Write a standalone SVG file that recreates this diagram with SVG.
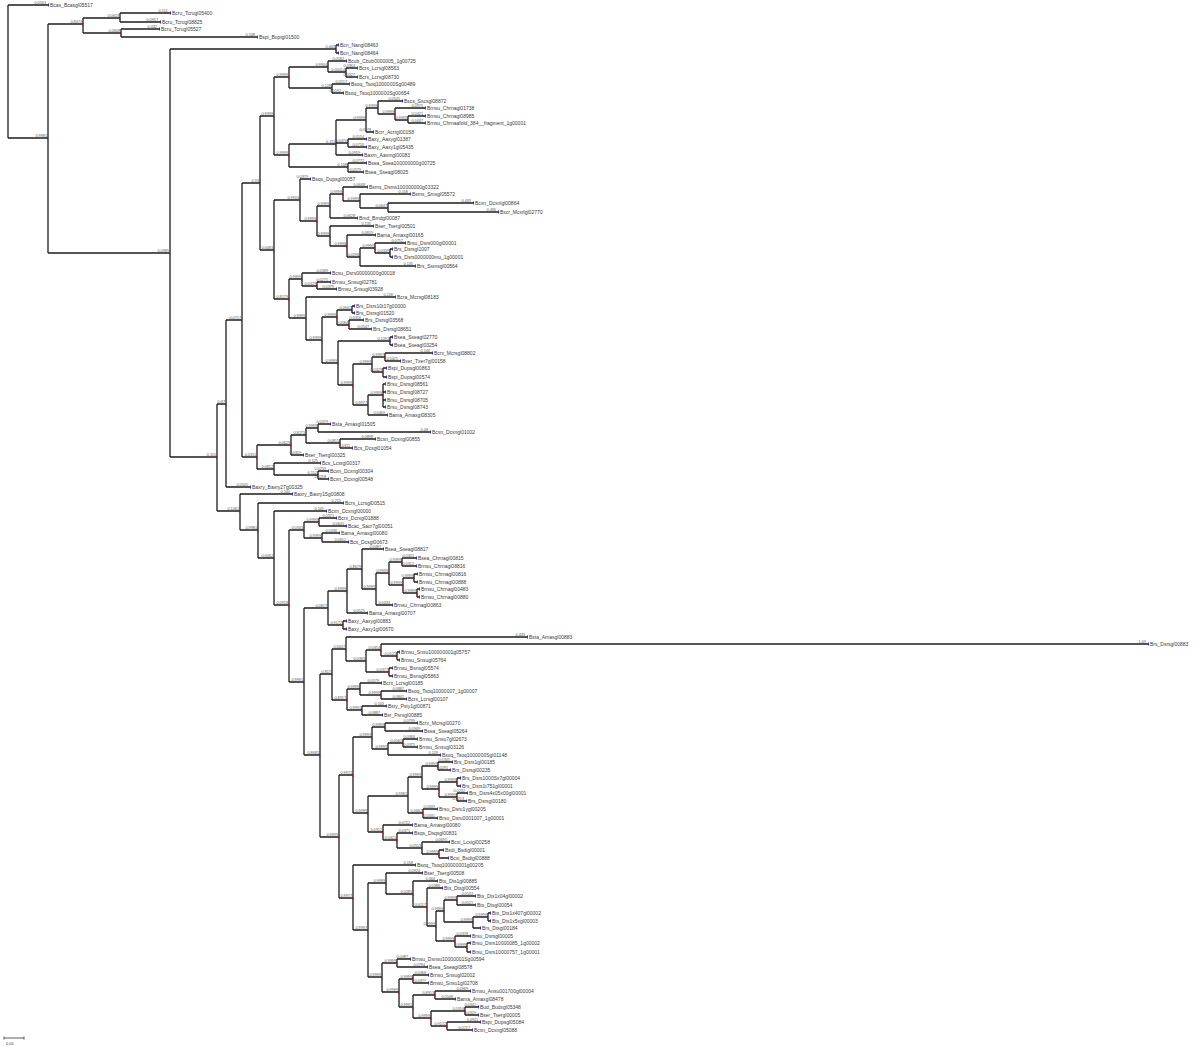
<svg xmlns="http://www.w3.org/2000/svg" width="1200" height="1048" viewBox="0 0 1200 1048">
<style>
.e path{fill:none;stroke:#1e1e1e;stroke-width:1.3}
.n{font-family:"Liberation Sans",Arial,sans-serif;font-size:5px;fill:#3a3a3a}
.b,.s{font-family:"Liberation Sans",Arial,sans-serif;font-size:3.8px;fill:#555;text-anchor:end}
.t{fill:#2233cc}
.rd{fill:#d42020}
</style>
<rect width="1200" height="1048" fill="#fff"/>
<g id="connectors" class="e">
<path d="M8 5V138M8 5H48M8 138H48"/>
<path d="M48 24V253M48 24H83M48 253H170"/>
<path d="M83 18V33M83 18H120M83 33H121"/>
<path d="M120 13V22M120 13H170M120 22H160"/>
<path d="M121 29V37M121 29H159M121 37H257"/>
<path d="M170 49V457M170 49H336M170 457H217"/>
<path d="M336 45V53M336 45H338M336 53H338"/>
<path d="M217 404V511M217 404H226M217 511H240"/>
<path d="M226 320V487M226 320H242M226 487H250"/>
<path d="M242 183V457M242 183H260M242 457H257"/>
<path d="M260 116V250M260 116H274M260 250H274"/>
<path d="M274 77V155M274 77H289M274 155H289"/>
<path d="M289 67V88M289 67H328M289 88H332"/>
<path d="M328 61V72M328 61H346M328 72H346"/>
<path d="M346 68V77M346 68H357M346 77H357"/>
<path d="M332 84V93M332 84H349M332 93H343"/>
<path d="M289 144V167M289 144H336M289 167H348"/>
<path d="M336 120V155M336 120H366M336 143H348M336 155H362"/>
<path d="M366 108V132M366 108H378M366 132H373"/>
<path d="M378 101V114M378 101H402M378 114H395"/>
<path d="M395 108V120M395 108H425M395 120H408"/>
<path d="M408 116V123M408 116H425M408 123H425"/>
<path d="M348 139V147M348 139H366M348 147H366"/>
<path d="M348 163V172M348 163H366M348 172H363"/>
<path d="M274 200V299M274 200H300M274 299H289"/>
<path d="M300 179V221M300 179H310M300 221H317"/>
<path d="M317 206V236M317 206H330M317 236H330"/>
<path d="M330 194V218M330 194H343M330 218H357"/>
<path d="M343 187V201M343 187H367M343 201H360"/>
<path d="M360 194V208M360 194H410M360 208H388"/>
<path d="M388 203V212M388 203H473M388 212H498"/>
<path d="M330 226V246M330 226H373M330 246H347"/>
<path d="M347 235V257M347 235H375M347 257H360"/>
<path d="M360 248V266M360 248H375M360 266H415"/>
<path d="M375 243V253M375 243H405M375 253H390"/>
<path d="M390 249V257M390 249H392M390 257H392"/>
<path d="M289 279V318M289 279H302M289 318H306"/>
<path d="M302 273V286M302 273H330M302 286H317"/>
<path d="M317 282V289M317 282H330M317 289H336"/>
<path d="M306 297V340M306 297H395M306 340H322"/>
<path d="M322 317V363M322 317H337M322 363H338"/>
<path d="M337 310V325M337 310H352M337 325H349"/>
<path d="M352 306V313M352 306H354M352 313H354"/>
<path d="M349 320V329M349 320H363M349 329H371"/>
<path d="M338 341V385M338 341H390M338 385H353"/>
<path d="M390 337V345M390 337H392M390 345H392"/>
<path d="M353 364V405M353 364H372M353 405H368"/>
<path d="M372 357V372M372 357H385M372 372H383"/>
<path d="M385 353V361M385 353H432M385 361H400"/>
<path d="M383 368V377M383 368H386M383 377H386"/>
<path d="M368 395V415M368 395H383M368 415H387"/>
<path d="M383 384V407M383 384H385M383 392H385M383 400H385M383 407H385"/>
<path d="M257 445V469M257 445H291M257 469H274"/>
<path d="M291 435V455M291 435H306M291 455H303"/>
<path d="M306 428V443M306 428H318M306 443H340"/>
<path d="M318 424V432M318 424H330M318 432H430"/>
<path d="M340 439V448M340 439H375M340 448H352"/>
<path d="M274 463V475M274 463H320M274 475H318"/>
<path d="M318 471V479M318 471H328M318 479H328"/>
<path d="M240 494V530M240 494H292M240 530H258"/>
<path d="M258 503V558M258 503H343M258 558H274"/>
<path d="M274 511V605M274 511H326M274 605H289"/>
<path d="M289 530V682M289 530H304M289 682H304"/>
<path d="M304 522V538M304 522H319M304 538H322"/>
<path d="M319 518V526M319 518H336M319 526H346"/>
<path d="M322 533V542M322 533H339M322 542H348"/>
<path d="M304 608V755M304 608H328M304 755H320"/>
<path d="M328 591V625M328 591H347M328 625H343"/>
<path d="M347 569V613M347 569H362M347 613H367"/>
<path d="M362 549V589M362 549H383M362 589H376"/>
<path d="M376 573V605M376 573H389M376 605H392"/>
<path d="M389 562V585M389 562H402M389 585H403"/>
<path d="M402 558V566M402 558H416M402 566H416"/>
<path d="M403 578V593M403 578H414M403 593H417"/>
<path d="M414 574V582M414 574H417M414 582H417"/>
<path d="M417 589V597M417 589H419M417 597H419"/>
<path d="M343 621V629M343 621H346M343 629H346"/>
<path d="M320 674V837M320 674H332M320 837H339"/>
<path d="M332 649V700M332 649H346M332 700H347"/>
<path d="M346 637V661M346 637H527M346 661H366"/>
<path d="M366 650V672M366 650H381M366 672H389"/>
<path d="M381 644V656M381 644H1148M381 656H397"/>
<path d="M397 652V660M397 652H399M397 660H399"/>
<path d="M389 668V676M389 668H392M389 676H392"/>
<path d="M347 689V710M347 689H360M347 710H362"/>
<path d="M360 683V695M360 683H381M360 695H381"/>
<path d="M381 691V699M381 691H406M381 699H406"/>
<path d="M362 706V715M362 706H386M362 715H382"/>
<path d="M339 775V898M339 775H353M339 898H353"/>
<path d="M353 737V813M353 737H372M353 813H368"/>
<path d="M372 727V749M372 727H385M372 749H388"/>
<path d="M385 723V731M385 723H417M385 731H422"/>
<path d="M388 743V755M388 743H403M388 755H440"/>
<path d="M403 739V747M403 739H417M403 747H417"/>
<path d="M368 796V832M368 796H408M368 832H383"/>
<path d="M408 777V813M408 777H422M408 813H423"/>
<path d="M422 766V789M422 766H438M422 789H439"/>
<path d="M438 762V770M438 762H452M438 770H450"/>
<path d="M439 782V797M439 782H457M439 797H457"/>
<path d="M457 778V786M457 778H460M457 786H460"/>
<path d="M457 793V801M457 793H467M457 801H466"/>
<path d="M423 809V818M423 809H437M423 818H437"/>
<path d="M383 825V840M383 825H412M383 840H397"/>
<path d="M397 833V848M397 833H412M397 848H422"/>
<path d="M422 842V854M422 842H449M422 854H439"/>
<path d="M439 850V858M439 850H443M439 858H448"/>
<path d="M353 865V930M353 865H415M353 930H368"/>
<path d="M368 883V977M368 883H386M368 977H382"/>
<path d="M386 873V894M386 873H422M386 894H413"/>
<path d="M413 881V907M413 881H437M413 907H427"/>
<path d="M427 888V926M427 888H442M427 926H436"/>
<path d="M436 911V941M436 911H444M436 941H455"/>
<path d="M444 900V922M444 900H457M444 922H473"/>
<path d="M457 896V905M457 896H475M457 905H475"/>
<path d="M473 917V928M473 917H488M473 928H480"/>
<path d="M488 913V921M488 913H490M488 921H490"/>
<path d="M455 936V947M455 936H470M455 947H467"/>
<path d="M467 943V952M467 943H470M467 952H470"/>
<path d="M382 963V992M382 963H397M382 992H399"/>
<path d="M397 959V967M397 959H410M397 967H427"/>
<path d="M399 979V1007M399 979H413M399 1007H413"/>
<path d="M413 975V983M413 975H428M413 983H428"/>
<path d="M413 995V1018M413 995H435M413 1018H431"/>
<path d="M435 991V999M435 991H470M435 999H455"/>
<path d="M431 1011V1026M431 1011H465M431 1026H447"/>
<path d="M465 1007V1015M465 1007H478M465 1015H478"/>
<path d="M447 1022V1030M447 1022H480M447 1030H472"/>
</g>
<g id="support">
<path class="rd" d="M47 138.6h1.4v1.4h-1.4zM82 24.6h1.4v1.4h-1.4zM119 18.6h1.4v1.4h-1.4zM120 33.6h1.4v1.4h-1.4zM169 253.6h1.4v1.4h-1.4zM335 49.6h1.4v1.4h-1.4zM216 457.6h1.4v1.4h-1.4zM225 404.6h1.4v1.4h-1.4zM241 320.6h1.4v1.4h-1.4zM259 183.6h1.4v1.4h-1.4zM273 116.6h1.4v1.4h-1.4zM288 77.6h1.4v1.4h-1.4zM327 67.6h1.4v1.4h-1.4zM345 72.6h1.4v1.4h-1.4zM331 88.6h1.4v1.4h-1.4zM288 155.6h1.4v1.4h-1.4zM335 144.6h1.4v1.4h-1.4zM365 120.6h1.4v1.4h-1.4zM377 108.6h1.4v1.4h-1.4zM394 114.6h1.4v1.4h-1.4zM407 120.6h1.4v1.4h-1.4zM347 143.6h1.4v1.4h-1.4zM347 167.6h1.4v1.4h-1.4zM273 250.6h1.4v1.4h-1.4zM299 200.6h1.4v1.4h-1.4zM316 221.6h1.4v1.4h-1.4zM329 206.6h1.4v1.4h-1.4zM342 194.6h1.4v1.4h-1.4zM359 201.6h1.4v1.4h-1.4zM387 208.6h1.4v1.4h-1.4zM329 236.6h1.4v1.4h-1.4zM346 246.6h1.4v1.4h-1.4zM359 257.6h1.4v1.4h-1.4zM374 248.6h1.4v1.4h-1.4zM389 253.6h1.4v1.4h-1.4zM288 299.6h1.4v1.4h-1.4zM301 279.6h1.4v1.4h-1.4zM316 286.6h1.4v1.4h-1.4zM305 318.6h1.4v1.4h-1.4zM321 340.6h1.4v1.4h-1.4zM336 317.6h1.4v1.4h-1.4zM351 310.6h1.4v1.4h-1.4zM348 325.6h1.4v1.4h-1.4zM337 363.6h1.4v1.4h-1.4zM389 341.6h1.4v1.4h-1.4zM352 385.6h1.4v1.4h-1.4zM371 364.6h1.4v1.4h-1.4zM384 357.6h1.4v1.4h-1.4zM382 372.6h1.4v1.4h-1.4zM367 405.6h1.4v1.4h-1.4zM382 395.6h1.4v1.4h-1.4zM256 457.6h1.4v1.4h-1.4zM290 445.6h1.4v1.4h-1.4zM305 435.6h1.4v1.4h-1.4zM317 428.6h1.4v1.4h-1.4zM339 443.6h1.4v1.4h-1.4zM273 469.6h1.4v1.4h-1.4zM317 475.6h1.4v1.4h-1.4zM239 511.6h1.4v1.4h-1.4zM257 530.6h1.4v1.4h-1.4zM273 558.6h1.4v1.4h-1.4zM288 605.6h1.4v1.4h-1.4zM303 530.6h1.4v1.4h-1.4zM318 522.6h1.4v1.4h-1.4zM321 538.6h1.4v1.4h-1.4zM303 682.6h1.4v1.4h-1.4zM327 608.6h1.4v1.4h-1.4zM346 591.6h1.4v1.4h-1.4zM361 569.6h1.4v1.4h-1.4zM375 589.6h1.4v1.4h-1.4zM388 573.6h1.4v1.4h-1.4zM401 562.6h1.4v1.4h-1.4zM402 585.6h1.4v1.4h-1.4zM413 578.6h1.4v1.4h-1.4zM416 593.6h1.4v1.4h-1.4zM342 625.6h1.4v1.4h-1.4zM319 755.6h1.4v1.4h-1.4zM331 674.6h1.4v1.4h-1.4zM345 649.6h1.4v1.4h-1.4zM365 661.6h1.4v1.4h-1.4zM380 650.6h1.4v1.4h-1.4zM396 656.6h1.4v1.4h-1.4zM388 672.6h1.4v1.4h-1.4zM346 700.6h1.4v1.4h-1.4zM359 689.6h1.4v1.4h-1.4zM380 695.6h1.4v1.4h-1.4zM361 710.6h1.4v1.4h-1.4zM338 837.6h1.4v1.4h-1.4zM352 775.6h1.4v1.4h-1.4zM371 737.6h1.4v1.4h-1.4zM384 727.6h1.4v1.4h-1.4zM387 749.6h1.4v1.4h-1.4zM402 743.6h1.4v1.4h-1.4zM367 813.6h1.4v1.4h-1.4zM407 796.6h1.4v1.4h-1.4zM421 777.6h1.4v1.4h-1.4zM437 766.6h1.4v1.4h-1.4zM438 789.6h1.4v1.4h-1.4zM456 782.6h1.4v1.4h-1.4zM456 797.6h1.4v1.4h-1.4zM422 813.6h1.4v1.4h-1.4zM382 832.6h1.4v1.4h-1.4zM396 840.6h1.4v1.4h-1.4zM421 848.6h1.4v1.4h-1.4zM438 854.6h1.4v1.4h-1.4zM352 898.6h1.4v1.4h-1.4zM367 930.6h1.4v1.4h-1.4zM385 883.6h1.4v1.4h-1.4zM412 894.6h1.4v1.4h-1.4zM426 907.6h1.4v1.4h-1.4zM435 926.6h1.4v1.4h-1.4zM443 911.6h1.4v1.4h-1.4zM456 900.6h1.4v1.4h-1.4zM472 922.6h1.4v1.4h-1.4zM487 917.6h1.4v1.4h-1.4zM454 941.6h1.4v1.4h-1.4zM466 947.6h1.4v1.4h-1.4zM381 977.6h1.4v1.4h-1.4zM396 963.6h1.4v1.4h-1.4zM398 992.6h1.4v1.4h-1.4zM412 979.6h1.4v1.4h-1.4zM412 1007.6h1.4v1.4h-1.4zM434 995.6h1.4v1.4h-1.4zM430 1018.6h1.4v1.4h-1.4zM464 1011.6h1.4v1.4h-1.4zM446 1026.6h1.4v1.4h-1.4z"/>
<text class="s" x="47" y="136.7">0.9981</text>
<text class="s" x="82" y="22.7">0.8073</text>
<text class="s" x="119" y="16.7">0.0603</text>
<text class="s" x="120" y="31.7">0.0608</text>
<text class="s" x="169" y="251.7">0.0985</text>
<text class="s" x="335" y="47.7">0.443</text>
<text class="s" x="216" y="455.7">0.115</text>
<text class="s" x="225" y="402.7">0.87</text>
<text class="s" x="241" y="318.7">0.0717</text>
<text class="s" x="259" y="181.7">0.93</text>
<text class="s" x="273" y="114.7">0.9999</text>
<text class="s" x="288" y="75.7">0.9999</text>
<text class="s" x="327" y="65.7">0.9904</text>
<text class="s" x="345" y="70.7">0.00014</text>
<text class="s" x="331" y="86.7">0.128</text>
<text class="s" x="288" y="153.7">0.9999</text>
<text class="s" x="335" y="142.7">0.111</text>
<text class="s" x="365" y="118.7">0.9999</text>
<text class="s" x="377" y="106.7">0.9999</text>
<text class="s" x="394" y="112.7">0.9999</text>
<text class="s" x="407" y="118.7">0.9999</text>
<text class="s" x="347" y="141.7">0.0470</text>
<text class="s" x="347" y="165.7">0.158</text>
<text class="s" x="273" y="248.7">0.0083</text>
<text class="s" x="299" y="198.7">0.9916</text>
<text class="s" x="316" y="219.7">0.9999</text>
<text class="s" x="329" y="204.7">0.9999</text>
<text class="s" x="342" y="192.7">0.9999</text>
<text class="s" x="359" y="199.7">0.9999</text>
<text class="s" x="387" y="206.7">0.0647</text>
<text class="s" x="329" y="234.7">0.9999</text>
<text class="s" x="346" y="244.7">0.9998</text>
<text class="s" x="359" y="255.7">0.0296</text>
<text class="s" x="374" y="246.7">0.9999</text>
<text class="s" x="389" y="251.7">0.0339</text>
<text class="s" x="288" y="297.7">0.8179</text>
<text class="s" x="301" y="277.7">0.9999</text>
<text class="s" x="316" y="284.7">0.0329</text>
<text class="s" x="305" y="316.7">0.9999</text>
<text class="s" x="321" y="338.7">0.9999</text>
<text class="s" x="336" y="315.7">0.9999</text>
<text class="s" x="351" y="308.7">0.0641</text>
<text class="s" x="348" y="323.7">0.0584</text>
<text class="s" x="337" y="361.7">0.9999</text>
<text class="s" x="389" y="339.7">0.1091</text>
<text class="s" x="352" y="383.7">0.9999</text>
<text class="s" x="371" y="362.7">0.9999</text>
<text class="s" x="384" y="355.7">0.9997</text>
<text class="s" x="382" y="370.7">0.0429</text>
<text class="s" x="367" y="403.7">0.9977</text>
<text class="s" x="382" y="393.7">0.9999</text>
<text class="s" x="256" y="455.7">0.0311</text>
<text class="s" x="290" y="443.7">0.0629</text>
<text class="s" x="305" y="433.7">0.8271</text>
<text class="s" x="317" y="426.7">0.9999</text>
<text class="s" x="339" y="441.7">0.0815</text>
<text class="s" x="273" y="467.7">0.0812</text>
<text class="s" x="317" y="473.7">0.152</text>
<text class="s" x="239" y="509.7">0.1062</text>
<text class="s" x="257" y="528.7">0.9981</text>
<text class="s" x="273" y="556.7">0.0062</text>
<text class="s" x="288" y="603.7">0.0918</text>
<text class="s" x="303" y="528.7">0.0343</text>
<text class="s" x="318" y="520.7">0.9999</text>
<text class="s" x="321" y="536.7">0.9999</text>
<text class="s" x="303" y="680.7">0.9991</text>
<text class="s" x="327" y="606.7">0.0817</text>
<text class="s" x="346" y="589.7">0.9999</text>
<text class="s" x="361" y="567.7">0.8679</text>
<text class="s" x="375" y="587.7">0.9999</text>
<text class="s" x="388" y="571.7">0.9999</text>
<text class="s" x="401" y="560.7">0.9999</text>
<text class="s" x="402" y="583.7">0.9999</text>
<text class="s" x="413" y="576.7">0.9999</text>
<text class="s" x="416" y="591.7">0.9999</text>
<text class="s" x="342" y="623.7">0.9172</text>
<text class="s" x="319" y="753.7">0.8681</text>
<text class="s" x="331" y="672.7">0.817</text>
<text class="s" x="345" y="647.7">0.0647</text>
<text class="s" x="365" y="659.7">0.0383</text>
<text class="s" x="380" y="648.7">0.0454</text>
<text class="s" x="396" y="654.7">0.0125</text>
<text class="s" x="388" y="670.7">0.0377</text>
<text class="s" x="346" y="698.7">0.8917</text>
<text class="s" x="359" y="687.7">0.9999</text>
<text class="s" x="380" y="693.7">0.9999</text>
<text class="s" x="361" y="708.7">0.9991</text>
<text class="s" x="338" y="835.7">0.9999</text>
<text class="s" x="352" y="773.7">0.9971</text>
<text class="s" x="371" y="735.7">0.9999</text>
<text class="s" x="384" y="725.7">0.9999</text>
<text class="s" x="387" y="747.7">0.9999</text>
<text class="s" x="402" y="741.7">0.0565</text>
<text class="s" x="367" y="811.7">0.9999</text>
<text class="s" x="407" y="794.7">0.9981</text>
<text class="s" x="421" y="775.7">0.9999</text>
<text class="s" x="437" y="764.7">0.9999</text>
<text class="s" x="438" y="787.7">0.9999</text>
<text class="s" x="456" y="780.7">0.9999</text>
<text class="s" x="456" y="795.7">0.9999</text>
<text class="s" x="422" y="811.7">0.0662</text>
<text class="s" x="382" y="830.7">0.0312</text>
<text class="s" x="396" y="838.7">0.0421</text>
<text class="s" x="421" y="846.7">0.0553</text>
<text class="s" x="438" y="852.7">0.9999</text>
<text class="s" x="352" y="896.7">0.9977</text>
<text class="s" x="367" y="928.7">0.9997</text>
<text class="s" x="385" y="881.7">0.9999</text>
<text class="s" x="412" y="892.7">0.0285</text>
<text class="s" x="426" y="905.7">0.0117</text>
<text class="s" x="435" y="924.7">0.9999</text>
<text class="s" x="443" y="909.7">0.9999</text>
<text class="s" x="456" y="898.7">0.9999</text>
<text class="s" x="472" y="920.7">0.9999</text>
<text class="s" x="487" y="915.7">0.9999</text>
<text class="s" x="454" y="939.7">0.9999</text>
<text class="s" x="466" y="945.7">0.9999</text>
<text class="s" x="381" y="975.7">0.9999</text>
<text class="s" x="396" y="961.7">0.9999</text>
<text class="s" x="398" y="990.7">0.9999</text>
<text class="s" x="412" y="977.7">0.9999</text>
<text class="s" x="412" y="1005.7">0.9992</text>
<text class="s" x="434" y="993.7">0.8913</text>
<text class="s" x="430" y="1016.7">0.9999</text>
<text class="s" x="464" y="1009.7">0.0316</text>
<text class="s" x="446" y="1024.7">0.9172</text>
</g>
<g id="leaves">
<g id="leaf1"><rect class="t" x="48" y="3.5" width="1" height="3"/><text class="n" x="50" y="6.8">Bcas_Bcasgl05517</text><text class="b" x="46" y="3.7">0.0563</text></g>
<g id="leaf2"><rect class="t" x="170" y="11.5" width="1" height="3"/><text class="n" x="172" y="14.8">Bcru_Tcrugl05400</text><text class="b" x="168" y="11.7">0.151</text></g>
<g id="leaf3"><rect class="t" x="160" y="20.5" width="1" height="3"/><text class="n" x="162" y="23.8">Bcru_Tcrugl08825</text><text class="b" x="158" y="20.7">0.0957</text></g>
<g id="leaf4"><rect class="t" x="159" y="27.5" width="1" height="3"/><text class="n" x="161" y="30.8">Bcru_Tcrugl05527</text><text class="b" x="157" y="27.7">0.032</text></g>
<g id="leaf5"><rect class="t" x="257" y="35.5" width="1" height="3"/><text class="n" x="259" y="38.8">Bspi_Bupigl01500</text><text class="b" x="255" y="35.7">0.548</text></g>
<g id="leaf6"><rect class="t" x="338" y="43.5" width="1" height="3"/><text class="n" x="340" y="46.8">Bcn_Nangl08463</text></g>
<g id="leaf7"><rect class="t" x="338" y="51.5" width="1" height="3"/><text class="n" x="340" y="54.8">Bcn_Nangl08464</text></g>
<g id="leaf8"><rect class="t" x="346" y="59.5" width="1" height="3"/><text class="n" x="348" y="62.8">Bcub_Cbub0000005_1g00725</text><text class="b" x="344" y="59.7">0.0582</text></g>
<g id="leaf9"><rect class="t" x="357" y="66.5" width="1" height="3"/><text class="n" x="359" y="69.8">Bcrs_Lcrsgl08563</text><text class="b" x="355" y="66.7">0.0364</text></g>
<g id="leaf10"><rect class="t" x="357" y="75.5" width="1" height="3"/><text class="n" x="359" y="78.8">Bcrs_Lcrsgl08730</text><text class="b" x="355" y="75.7">0.0327</text></g>
<g id="leaf11"><rect class="t" x="349" y="82.5" width="1" height="3"/><text class="n" x="351" y="85.8">Bsoq_Tsoq1000000Sg00489</text><text class="b" x="347" y="82.7">0.0517</text></g>
<g id="leaf12"><rect class="t" x="343" y="91.5" width="1" height="3"/><text class="n" x="345" y="94.8">Bsoq_Tsoq1000000Sg00654</text><text class="b" x="341" y="91.7">0.0192</text></g>
<g id="leaf13"><rect class="t" x="402" y="99.5" width="1" height="3"/><text class="n" x="404" y="102.8">Bscs_Sscsgl08872</text><text class="b" x="400" y="99.7">0.0541</text></g>
<g id="leaf14"><rect class="t" x="425" y="106.5" width="1" height="3"/><text class="n" x="427" y="109.8">Brnsu_Chrnagl01738</text><text class="b" x="423" y="106.7">0.0975</text></g>
<g id="leaf15"><rect class="t" x="425" y="114.5" width="1" height="3"/><text class="n" x="427" y="117.8">Brnsu_Chrnagl08985</text><text class="b" x="423" y="114.7">0.0421</text></g>
<g id="leaf16"><rect class="t" x="425" y="121.5" width="1" height="3"/><text class="n" x="427" y="124.8">Brnsu_Chrnaafold_384__fragment_1g00001</text><text class="b" x="423" y="121.7">0.0447</text></g>
<g id="leaf17"><rect class="t" x="373" y="130.5" width="1" height="3"/><text class="n" x="375" y="133.8">Bcrr_Acrrgl00158</text><text class="b" x="371" y="130.7">0.0278</text></g>
<g id="leaf18"><rect class="t" x="366" y="137.5" width="1" height="3"/><text class="n" x="368" y="140.8">Baxy_Aaxygl01387</text><text class="b" x="364" y="137.7">0.0514</text></g>
<g id="leaf19"><rect class="t" x="366" y="145.5" width="1" height="3"/><text class="n" x="368" y="148.8">Baxy_Aaxy1gl05435</text><text class="b" x="364" y="145.7">0.0716</text></g>
<g id="leaf20"><rect class="t" x="362" y="153.5" width="1" height="3"/><text class="n" x="364" y="156.8">Baxm_Aaxmgl00083</text><text class="b" x="360" y="153.7">0.0959</text></g>
<g id="leaf21"><rect class="t" x="366" y="161.5" width="1" height="3"/><text class="n" x="368" y="164.8">Bsea_Ssea100000000g00725</text><text class="b" x="364" y="161.7">0.0772</text></g>
<g id="leaf22"><rect class="t" x="363" y="170.5" width="1" height="3"/><text class="n" x="365" y="173.8">Bsea_Sseagl08025</text><text class="b" x="361" y="170.7">0.0579</text></g>
<g id="leaf23"><rect class="t" x="310" y="177.5" width="1" height="3"/><text class="n" x="312" y="180.8">Bsqs_Dupsgl00057</text><text class="b" x="308" y="177.7">0.0379</text></g>
<g id="leaf24"><rect class="t" x="367" y="185.5" width="1" height="3"/><text class="n" x="369" y="188.8">Bsms_Dsms100000000g03322</text><text class="b" x="365" y="185.7">0.0648</text></g>
<g id="leaf25"><rect class="t" x="410" y="192.5" width="1" height="3"/><text class="n" x="412" y="195.8">Bsms_Smsgl05572</text><text class="b" x="408" y="192.7">0.158</text></g>
<g id="leaf26"><rect class="t" x="473" y="201.5" width="1" height="3"/><text class="n" x="475" y="204.8">Bcxn_Dcxnlgl00864</text><text class="b" x="471" y="201.7">0.433</text></g>
<g id="leaf27"><rect class="t" x="498" y="210.5" width="1" height="3"/><text class="n" x="500" y="213.8">Bxcr_Mcxrlgl02770</text><text class="b" x="496" y="210.7">0.496</text></g>
<g id="leaf28"><rect class="t" x="357" y="216.5" width="1" height="3"/><text class="n" x="359" y="219.8">Bmd_Bmdgl00087</text><text class="b" x="355" y="216.7">0.0628</text></g>
<g id="leaf29"><rect class="t" x="373" y="224.5" width="1" height="3"/><text class="n" x="375" y="227.8">Bser_Tsergl00501</text><text class="b" x="371" y="224.7">0.135</text></g>
<g id="leaf30"><rect class="t" x="375" y="233.5" width="1" height="3"/><text class="n" x="377" y="236.8">Bama_Amaxgl00165</text><text class="b" x="373" y="233.7">0.0819</text></g>
<g id="leaf31"><rect class="t" x="405" y="241.5" width="1" height="3"/><text class="n" x="407" y="244.8">Brsu_Dsrs000gl00001</text><text class="b" x="403" y="241.7">0.0752</text></g>
<g id="leaf32"><rect class="t" x="392" y="247.5" width="1" height="3"/><text class="n" x="394" y="250.8">Brs_Dsrsgl1007</text></g>
<g id="leaf33"><rect class="t" x="392" y="255.5" width="1" height="3"/><text class="n" x="394" y="258.8">Brs_Dsrs0000000mu_1g00001</text></g>
<g id="leaf34"><rect class="t" x="415" y="264.5" width="1" height="3"/><text class="n" x="417" y="267.8">Brs_Ssmsgl00564</text><text class="b" x="413" y="264.7">0.135</text></g>
<g id="leaf35"><rect class="t" x="330" y="271.5" width="1" height="3"/><text class="n" x="332" y="274.8">Bcsu_Dsrs00000000g00018</text><text class="b" x="328" y="271.7">0.0589</text></g>
<g id="leaf36"><rect class="t" x="330" y="280.5" width="1" height="3"/><text class="n" x="332" y="283.8">Brnsu_Snsugl02781</text><text class="b" x="328" y="280.7">0.0275</text></g>
<g id="leaf37"><rect class="t" x="336" y="287.5" width="1" height="3"/><text class="n" x="338" y="290.8">Brnsu_Snsugl03928</text><text class="b" x="334" y="287.7">0.0379</text></g>
<g id="leaf38"><rect class="t" x="395" y="295.5" width="1" height="3"/><text class="n" x="397" y="298.8">Bcra_Mcrsgl08183</text><text class="b" x="393" y="295.7">0.218</text></g>
<g id="leaf39"><rect class="t" x="354" y="304.5" width="1" height="3"/><text class="n" x="356" y="307.8">Brs_Dsrs10t17g00000</text></g>
<g id="leaf40"><rect class="t" x="354" y="311.5" width="1" height="3"/><text class="n" x="356" y="314.8">Brs_Dsrsgl01520</text></g>
<g id="leaf41"><rect class="t" x="363" y="318.5" width="1" height="3"/><text class="n" x="365" y="321.8">Brs_Dsrsgl03568</text><text class="b" x="361" y="318.7">0.0356</text></g>
<g id="leaf42"><rect class="t" x="371" y="327.5" width="1" height="3"/><text class="n" x="373" y="330.8">Brs_Dsrsgl08651</text><text class="b" x="369" y="327.7">0.0547</text></g>
<g id="leaf43"><rect class="t" x="392" y="335.5" width="1" height="3"/><text class="n" x="394" y="338.8">Bsea_Sseagl02770</text></g>
<g id="leaf44"><rect class="t" x="392" y="343.5" width="1" height="3"/><text class="n" x="394" y="346.8">Bsea_Sseagl03254</text></g>
<g id="leaf45"><rect class="t" x="432" y="351.5" width="1" height="3"/><text class="n" x="434" y="354.8">Bcrx_Mcrsgl08802</text><text class="b" x="430" y="351.7">0.144</text></g>
<g id="leaf46"><rect class="t" x="400" y="359.5" width="1" height="3"/><text class="n" x="402" y="362.8">Bxer_Txer7gl00158</text><text class="b" x="398" y="359.7">0.0425</text></g>
<g id="leaf47"><rect class="t" x="386" y="366.5" width="1" height="3"/><text class="n" x="388" y="369.8">Bspi_Dupsgl00863</text></g>
<g id="leaf48"><rect class="t" x="386" y="375.5" width="1" height="3"/><text class="n" x="388" y="378.8">Bspi_Dupsgl00574</text></g>
<g id="leaf49"><rect class="t" x="385" y="382.5" width="1" height="3"/><text class="n" x="387" y="385.8">Brsu_Dsrsgl08561</text></g>
<g id="leaf50"><rect class="t" x="385" y="390.5" width="1" height="3"/><text class="n" x="387" y="393.8">Brsu_Dsrsgl08727</text></g>
<g id="leaf51"><rect class="t" x="385" y="398.5" width="1" height="3"/><text class="n" x="387" y="401.8">Brsu_Dsrsgl08705</text></g>
<g id="leaf52"><rect class="t" x="385" y="405.5" width="1" height="3"/><text class="n" x="387" y="408.8">Brsu_Dsrsgl08743</text></g>
<g id="leaf53"><rect class="t" x="387" y="413.5" width="1" height="3"/><text class="n" x="389" y="416.8">Bama_Amaxgl08305</text><text class="b" x="385" y="413.7">0.0469</text></g>
<g id="leaf54"><rect class="t" x="330" y="422.5" width="1" height="3"/><text class="n" x="332" y="425.8">Bsta_Amasgl01505</text><text class="b" x="328" y="422.7">0.0379</text></g>
<g id="leaf55"><rect class="t" x="430" y="430.5" width="1" height="3"/><text class="n" x="432" y="433.8">Bcxn_Dcxngl01002</text><text class="b" x="428" y="430.7">0.48</text></g>
<g id="leaf56"><rect class="t" x="375" y="437.5" width="1" height="3"/><text class="n" x="377" y="440.8">Bcsn_Dcsngl00855</text><text class="b" x="373" y="437.7">0.0898</text></g>
<g id="leaf57"><rect class="t" x="352" y="446.5" width="1" height="3"/><text class="n" x="354" y="449.8">Bcs_Dcsgl01054</text><text class="b" x="350" y="446.7">0.0311</text></g>
<g id="leaf58"><rect class="t" x="303" y="453.5" width="1" height="3"/><text class="n" x="305" y="456.8">Bser_Tsergl00325</text><text class="b" x="301" y="453.7">0.0359</text></g>
<g id="leaf59"><rect class="t" x="320" y="461.5" width="1" height="3"/><text class="n" x="322" y="464.8">Bcs_Lcsrgl00317</text><text class="b" x="318" y="461.7">0.125</text></g>
<g id="leaf60"><rect class="t" x="328" y="469.5" width="1" height="3"/><text class="n" x="330" y="472.8">Bcxn_Dcxngl00304</text><text class="b" x="326" y="469.7">0.0259</text></g>
<g id="leaf61"><rect class="t" x="328" y="477.5" width="1" height="3"/><text class="n" x="330" y="480.8">Bcxn_Dcxngl00548</text><text class="b" x="326" y="477.7">0.0258</text></g>
<g id="leaf62"><rect class="t" x="250" y="485.5" width="1" height="3"/><text class="n" x="252" y="488.8">Baxry_Baxry27g00325</text><text class="b" x="248" y="485.7">0.0505</text></g>
<g id="leaf63"><rect class="t" x="292" y="492.5" width="1" height="3"/><text class="n" x="294" y="495.8">Baxry_Baxry15g00808</text><text class="b" x="290" y="492.7">0.100</text></g>
<g id="leaf64"><rect class="t" x="343" y="501.5" width="1" height="3"/><text class="n" x="345" y="504.8">Bcrs_Lcrsgl00515</text><text class="b" x="341" y="501.7">0.215</text></g>
<g id="leaf65"><rect class="t" x="326" y="509.5" width="1" height="3"/><text class="n" x="328" y="512.8">Bcxn_Dcxngl00000</text><text class="b" x="324" y="509.7">0.105</text></g>
<g id="leaf66"><rect class="t" x="336" y="516.5" width="1" height="3"/><text class="n" x="338" y="519.8">Bcrx_Dcrxgl01888</text><text class="b" x="334" y="516.7">0.0371</text></g>
<g id="leaf67"><rect class="t" x="346" y="524.5" width="1" height="3"/><text class="n" x="348" y="527.8">Bcac_Sacr7gl00051</text><text class="b" x="344" y="524.7">0.0641</text></g>
<g id="leaf68"><rect class="t" x="339" y="531.5" width="1" height="3"/><text class="n" x="341" y="534.8">Bama_Amaxgl00080</text><text class="b" x="337" y="531.7">0.0436</text></g>
<g id="leaf69"><rect class="t" x="348" y="540.5" width="1" height="3"/><text class="n" x="350" y="543.8">Bcs_Dcsgl00673</text><text class="b" x="346" y="540.7">0.0652</text></g>
<g id="leaf70"><rect class="t" x="383" y="547.5" width="1" height="3"/><text class="n" x="385" y="550.8">Bsea_Sseagl08817</text><text class="b" x="381" y="547.7">0.0487</text></g>
<g id="leaf71"><rect class="t" x="416" y="556.5" width="1" height="3"/><text class="n" x="418" y="559.8">Bsea_Chrnagl00815</text><text class="b" x="414" y="556.7">0.0301</text></g>
<g id="leaf72"><rect class="t" x="416" y="564.5" width="1" height="3"/><text class="n" x="418" y="567.8">Brnsu_Chrnagl08816</text><text class="b" x="414" y="564.7">0.0312</text></g>
<g id="leaf73"><rect class="t" x="417" y="572.5" width="1" height="3"/><text class="n" x="419" y="575.8">Brnsu_Chrnagl00816</text></g>
<g id="leaf74"><rect class="t" x="417" y="580.5" width="1" height="3"/><text class="n" x="419" y="583.8">Brnsu_Chrnagl00888</text></g>
<g id="leaf75"><rect class="t" x="419" y="587.5" width="1" height="3"/><text class="n" x="421" y="590.8">Brnsu_Chrnagl00483</text></g>
<g id="leaf76"><rect class="t" x="419" y="595.5" width="1" height="3"/><text class="n" x="421" y="598.8">Brnsu_Chrnagl00880</text></g>
<g id="leaf77"><rect class="t" x="392" y="603.5" width="1" height="3"/><text class="n" x="394" y="606.8">Brnsu_Chrnagl00863</text><text class="b" x="390" y="603.7">0.0434</text></g>
<g id="leaf78"><rect class="t" x="367" y="611.5" width="1" height="3"/><text class="n" x="369" y="614.8">Bama_Amaxgl00707</text><text class="b" x="365" y="611.7">0.0525</text></g>
<g id="leaf79"><rect class="t" x="346" y="619.5" width="1" height="3"/><text class="n" x="348" y="622.8">Baxy_Aaxygl00883</text></g>
<g id="leaf80"><rect class="t" x="346" y="627.5" width="1" height="3"/><text class="n" x="348" y="630.8">Baxy_Aaxy1gl00670</text></g>
<g id="leaf81"><rect class="t" x="527" y="635.5" width="1" height="3"/><text class="n" x="529" y="638.8">Bsta_Amasgl00883</text><text class="b" x="525" y="635.7">0.433</text></g>
<g id="leaf82"><rect class="t" x="1148" y="642.5" width="1" height="3"/><text class="n" x="1150" y="645.8">Brs_Dsrsgl00883</text><text class="b" x="1146" y="642.7">1.69</text></g>
<g id="leaf83"><rect class="t" x="399" y="650.5" width="1" height="3"/><text class="n" x="401" y="653.8">Brnsu_Snsu100000001g05757</text></g>
<g id="leaf84"><rect class="t" x="399" y="658.5" width="1" height="3"/><text class="n" x="401" y="661.8">Brnsu_Snsugl05764</text></g>
<g id="leaf85"><rect class="t" x="392" y="666.5" width="1" height="3"/><text class="n" x="394" y="669.8">Brnsu_Bsnsgl05574</text></g>
<g id="leaf86"><rect class="t" x="392" y="674.5" width="1" height="3"/><text class="n" x="394" y="677.8">Brnsu_Bsnsgl05863</text></g>
<g id="leaf87"><rect class="t" x="381" y="681.5" width="1" height="3"/><text class="n" x="383" y="684.8">Bcrs_Lcrsgl00185</text><text class="b" x="379" y="681.7">0.0579</text></g>
<g id="leaf88"><rect class="t" x="406" y="689.5" width="1" height="3"/><text class="n" x="408" y="692.8">Bsoq_Tsoq10000007_1g00007</text><text class="b" x="404" y="689.7">0.0882</text></g>
<g id="leaf89"><rect class="t" x="406" y="697.5" width="1" height="3"/><text class="n" x="408" y="700.8">Bcrs_Lcrsgl00107</text><text class="b" x="404" y="697.7">0.0841</text></g>
<g id="leaf90"><rect class="t" x="386" y="704.5" width="1" height="3"/><text class="n" x="388" y="707.8">Bsty_Psty1gl00871</text><text class="b" x="384" y="704.7">0.103</text></g>
<g id="leaf91"><rect class="t" x="382" y="713.5" width="1" height="3"/><text class="n" x="384" y="716.8">Bsr_Psrsgl00885</text><text class="b" x="380" y="713.7">0.0887</text></g>
<g id="leaf92"><rect class="t" x="417" y="721.5" width="1" height="3"/><text class="n" x="419" y="724.8">Bcrx_Mcrsgl00270</text><text class="b" x="415" y="721.7">0.0799</text></g>
<g id="leaf93"><rect class="t" x="422" y="729.5" width="1" height="3"/><text class="n" x="424" y="732.8">Bsea_Sseagl05264</text><text class="b" x="420" y="729.7">0.0969</text></g>
<g id="leaf94"><rect class="t" x="417" y="737.5" width="1" height="3"/><text class="n" x="419" y="740.8">Brnsu_Snsu7gl02673</text><text class="b" x="415" y="737.7">0.0366</text></g>
<g id="leaf95"><rect class="t" x="417" y="745.5" width="1" height="3"/><text class="n" x="419" y="748.8">Brnsu_Snsugl03126</text><text class="b" x="415" y="745.7">0.0375</text></g>
<g id="leaf96"><rect class="t" x="440" y="753.5" width="1" height="3"/><text class="n" x="442" y="756.8">Bsoq_Tsoq1000000Sgl01148</text><text class="b" x="438" y="753.7">0.129</text></g>
<g id="leaf97"><rect class="t" x="452" y="760.5" width="1" height="3"/><text class="n" x="454" y="763.8">Brs_Dsrs1gl00185</text><text class="b" x="450" y="760.7">0.0345</text></g>
<g id="leaf98"><rect class="t" x="450" y="768.5" width="1" height="3"/><text class="n" x="452" y="771.8">Brs_Dsrsgl00235</text><text class="b" x="448" y="768.7">0.0291</text></g>
<g id="leaf99"><rect class="t" x="460" y="776.5" width="1" height="3"/><text class="n" x="462" y="779.8">Brs_Dsrs1000Sx7gl00004</text></g>
<g id="leaf100"><rect class="t" x="460" y="784.5" width="1" height="3"/><text class="n" x="462" y="787.8">Brs_Dsrs1t751gl00001</text></g>
<g id="leaf101"><rect class="t" x="467" y="791.5" width="1" height="3"/><text class="n" x="469" y="794.8">Brs_Dsrs4x05x00gl00001</text><text class="b" x="465" y="791.7">0.0232</text></g>
<g id="leaf102"><rect class="t" x="466" y="799.5" width="1" height="3"/><text class="n" x="468" y="802.8">Brs_Dsrsgl00180</text><text class="b" x="464" y="799.7">0.0213</text></g>
<g id="leaf103"><rect class="t" x="437" y="807.5" width="1" height="3"/><text class="n" x="439" y="810.8">Brsu_Dsru1ygl00205</text><text class="b" x="435" y="807.7">0.0349</text></g>
<g id="leaf104"><rect class="t" x="437" y="816.5" width="1" height="3"/><text class="n" x="439" y="819.8">Brsu_Dsru0001007_1g00001</text><text class="b" x="435" y="816.7">0.0341</text></g>
<g id="leaf105"><rect class="t" x="412" y="823.5" width="1" height="3"/><text class="n" x="414" y="826.8">Bama_Amaxgl00080</text><text class="b" x="410" y="823.7">0.0722</text></g>
<g id="leaf106"><rect class="t" x="412" y="831.5" width="1" height="3"/><text class="n" x="414" y="834.8">Bsqs_Dsqsgl00831</text><text class="b" x="410" y="831.7">0.0371</text></g>
<g id="leaf107"><rect class="t" x="449" y="840.5" width="1" height="3"/><text class="n" x="451" y="843.8">Bcxi_Lcxigl00258</text><text class="b" x="447" y="840.7">0.0695</text></g>
<g id="leaf108"><rect class="t" x="443" y="848.5" width="1" height="3"/><text class="n" x="445" y="851.8">Bsdi_Bsdigl00001</text></g>
<g id="leaf109"><rect class="t" x="448" y="856.5" width="1" height="3"/><text class="n" x="450" y="859.8">Bcxi_Bsdigl00888</text></g>
<g id="leaf110"><rect class="t" x="415" y="863.5" width="1" height="3"/><text class="n" x="417" y="866.8">Bsoq_Tsoq100000001g00205</text><text class="b" x="413" y="863.7">0.158</text></g>
<g id="leaf111"><rect class="t" x="422" y="871.5" width="1" height="3"/><text class="n" x="424" y="874.8">Bser_Tsergl00508</text><text class="b" x="420" y="871.7">0.0924</text></g>
<g id="leaf112"><rect class="t" x="437" y="879.5" width="1" height="3"/><text class="n" x="439" y="882.8">Bts_Dts1gl00885</text><text class="b" x="435" y="879.7">0.064</text></g>
<g id="leaf113"><rect class="t" x="442" y="886.5" width="1" height="3"/><text class="n" x="444" y="889.8">Bts_Dtsgl00554</text><text class="b" x="440" y="886.7">0.0386</text></g>
<g id="leaf114"><rect class="t" x="475" y="894.5" width="1" height="3"/><text class="n" x="477" y="897.8">Bts_Dts1x04gl00002</text><text class="b" x="473" y="894.7">0.0533</text></g>
<g id="leaf115"><rect class="t" x="475" y="903.5" width="1" height="3"/><text class="n" x="477" y="906.8">Bts_Dtsgl00054</text><text class="b" x="473" y="903.7">0.0521</text></g>
<g id="leaf116"><rect class="t" x="490" y="911.5" width="1" height="3"/><text class="n" x="492" y="914.8">Bts_Dts1x407gl00002</text></g>
<g id="leaf117"><rect class="t" x="490" y="919.5" width="1" height="3"/><text class="n" x="492" y="922.8">Bts_Dts1x5xgl00003</text></g>
<g id="leaf118"><rect class="t" x="480" y="926.5" width="1" height="3"/><text class="n" x="482" y="929.8">Brs_Dtsgl00184</text></g>
<g id="leaf119"><rect class="t" x="470" y="934.5" width="1" height="3"/><text class="n" x="472" y="937.8">Brsu_Dsrsgl00005</text><text class="b" x="468" y="934.7">0.0378</text></g>
<g id="leaf120"><rect class="t" x="470" y="941.5" width="1" height="3"/><text class="n" x="472" y="944.8">Brsu_Dsrs10000085_1g00002</text></g>
<g id="leaf121"><rect class="t" x="470" y="950.5" width="1" height="3"/><text class="n" x="472" y="953.8">Brsu_Dsrs10000757_1g00001</text></g>
<g id="leaf122"><rect class="t" x="410" y="957.5" width="1" height="3"/><text class="n" x="412" y="960.8">Brnsu_Dsnsu10000001Sg00594</text><text class="b" x="408" y="957.7">0.0387</text></g>
<g id="leaf123"><rect class="t" x="427" y="965.5" width="1" height="3"/><text class="n" x="429" y="968.8">Bsea_Sseagl08578</text><text class="b" x="425" y="965.7">0.0794</text></g>
<g id="leaf124"><rect class="t" x="428" y="973.5" width="1" height="3"/><text class="n" x="430" y="976.8">Brnsu_Snsugl02002</text><text class="b" x="426" y="973.7">0.0368</text></g>
<g id="leaf125"><rect class="t" x="428" y="981.5" width="1" height="3"/><text class="n" x="430" y="984.8">Brnsu_Snsu1gl02708</text><text class="b" x="426" y="981.7">0.0377</text></g>
<g id="leaf126"><rect class="t" x="470" y="989.5" width="1" height="3"/><text class="n" x="472" y="992.8">Brnsu_Ansu001700gl00004</text><text class="b" x="468" y="989.7">0.0969</text></g>
<g id="leaf127"><rect class="t" x="455" y="997.5" width="1" height="3"/><text class="n" x="457" y="1000.8">Bama_Amaxgl08478</text><text class="b" x="453" y="997.7">0.0546</text></g>
<g id="leaf128"><rect class="t" x="478" y="1005.5" width="1" height="3"/><text class="n" x="480" y="1008.8">Bud_Budxgl05348</text><text class="b" x="476" y="1005.7">0.0342</text></g>
<g id="leaf129"><rect class="t" x="478" y="1013.5" width="1" height="3"/><text class="n" x="480" y="1016.8">Bser_Tsergl00005</text><text class="b" x="476" y="1013.7">0.0319</text></g>
<g id="leaf130"><rect class="t" x="480" y="1020.5" width="1" height="3"/><text class="n" x="482" y="1023.8">Bspi_Dupsgl05084</text><text class="b" x="478" y="1020.7">0.0911</text></g>
<g id="leaf131"><rect class="t" x="472" y="1028.5" width="1" height="3"/><text class="n" x="474" y="1031.8">Bcxn_Dcxngl05088</text><text class="b" x="470" y="1028.7">0.0717</text></g>
</g>
<g id="scale">
<path d="M4 1038H24M4 1036.5V1039.5M24 1036.5V1039.5" stroke="#333" stroke-width="0.8" fill="none"/>
<text class="n" x="6" y="1045" style="font-size:4px">0.05</text>
</g>
</svg>
